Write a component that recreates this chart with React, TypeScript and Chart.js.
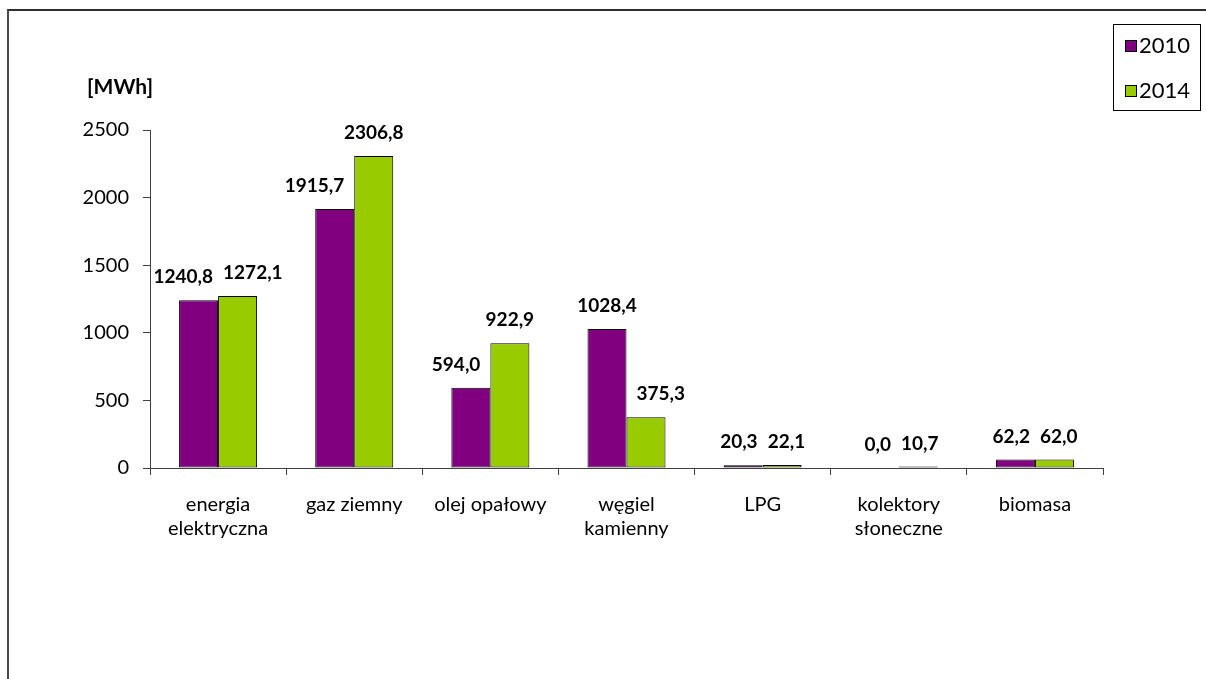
import React, { useEffect, useRef } from "react";
import { Chart, registerables } from "chart.js";

Chart.register(...registerables);

const categories: string[][] = [
  ["energia", "elektryczna"],
  ["gaz ziemny"],
  ["olej opałowy"],
  ["węgiel", "kamienny"],
  ["LPG"],
  ["kolektory", "słoneczne"],
  ["biomasa"],
];
const seriesNames = ["2010", "2014"];
const values2010 = [1240.8, 1915.7, 594.0, 1028.4, 20.3, 0.0, 62.2];
const values2014 = [1272.1, 2306.8, 922.9, 375.3, 22.1, 10.7, 62.0];
const yTickValues = [0, 500, 1000, 1500, 2000, 2500];
const unitLabel = "[MWh]";

const COLORS = ["#800080", "#99CC00"];
const FONT = "Lato, 'Liberation Sans', sans-serif";

const fmt = (v: number) => v.toFixed(1).replace(".", ",");

const labelPlugin = {
  id: "valueLabels",
  afterDatasetsDraw(chart: any) {
    const ctx = chart.ctx;
    ctx.save();
    ctx.font = `bold 19px ${FONT}`;
    ctx.fillStyle = "#000";
    ctx.textAlign = "center";
    ctx.textBaseline = "middle";
    const m0 = chart.getDatasetMeta(0);
    const m1 = chart.getDatasetMeta(1);
    const d0 = chart.data.datasets[0].data as number[];
    const d1 = chart.data.datasets[1].data as number[];
    const half = 9;
    for (let i = 0; i < d0.length; i++) {
      const b0 = m0.data[i];
      const b1 = m1.data[i];
      const t0 = fmt(d0[i]);
      const t1 = fmt(d1[i]);
      const w0 = ctx.measureText(t0).width;
      const w1 = ctx.measureText(t1).width;
      let x0 = b0.x;
      let x1 = b1.x;
      const y0 = b0.y - 23;
      const y1 = b1.y - 23;
      const gap = 10;
      // keep a label clear of the neighbouring (taller) bar
      if (y0 + half > b1.y) {
        const right = b1.x - b1.width / 2 - gap;
        if (x0 + w0 / 2 > right) x0 = right - w0 / 2;
      }
      if (y1 + half > b0.y) {
        const left = b0.x + b0.width / 2 + gap;
        if (x1 - w1 / 2 < left) x1 = left + w1 / 2;
      }
      if (Math.abs(y0 - y1) < 18) {
        const space = x1 - w1 / 2 - (x0 + w0 / 2);
        if (space < gap) {
          const o = gap - space;
          x0 -= o / 2;
          x1 += o / 2;
        }
      }
      ctx.fillText(t0, x0, y0);
      ctx.fillText(t1, x1, y1);
    }
    ctx.restore();
  },
};

const decorPlugin = {
  id: "decor",
  afterDraw(chart: any) {
    const ctx = chart.ctx;
    ctx.save();
    ctx.font = `bold 21px ${FONT}`;
    ctx.fillStyle = "#000";
    ctx.textAlign = "left";
    ctx.textBaseline = "middle";
    ctx.fillText(unitLabel, 87, 87);
    ctx.strokeStyle = "#000";
    ctx.lineWidth = 1;
    ctx.strokeRect(1113.5, 24.5, 87, 86);
    ctx.font = `22px ${FONT}`;
    const ys = [46, 91];
    seriesNames.forEach((n, i) => {
      ctx.fillStyle = COLORS[i];
      ctx.fillRect(1125, ys[i] - 6, 12, 12);
      ctx.strokeStyle = "#000";
      ctx.strokeRect(1125.5, ys[i] - 5.5, 11, 11);
      ctx.fillStyle = "#000";
      ctx.fillText(n, 1139, ys[i]);
    });
    ctx.restore();
  },
};

export default function App() {
  const ref = useRef<HTMLCanvasElement | null>(null);
  useEffect(() => {
    if (!ref.current) return;
    const mk = (i: number, data: number[]) => ({
      label: seriesNames[i],
      data,
      backgroundColor: COLORS[i],
      borderColor: "#000",
      borderWidth: 1,
      borderSkipped: false,
      barPercentage: 1,
      categoryPercentage: 0.573,
    });
    const chart = new Chart(ref.current, {
      type: "bar",
      data: {
        labels: categories,
        datasets: [mk(0, values2010), mk(1, values2014)],
      },
      options: {
        animation: false,
        responsive: false,
        devicePixelRatio: 1,
        layout: { padding: { left: 0, top: 130, right: 103, bottom: 0 } },
        plugins: {
          legend: { display: false },
          tooltip: { enabled: false },
        },
        scales: {
          x: {
            grid: {
              offset: true,
              drawOnChartArea: false,
              drawTicks: true,
              tickLength: 7,
              color: "#404040",
            },
            border: { display: true, color: "#404040", width: 1 },
            ticks: {
              font: { family: FONT, size: 20 },
              color: "#000",
              padding: 18,
              maxRotation: 0,
              autoSkip: false,
            },
            afterFit: (s: any) => {
              s.height = 211;
            },
          },
          y: {
            min: 0,
            max: 2500,
            afterBuildTicks: (s: any) => {
              s.ticks = yTickValues.map((v) => ({ value: v }));
            },
            grid: {
              drawOnChartArea: false,
              drawTicks: true,
              tickLength: 7,
              color: "#404040",
            },
            border: { display: true, color: "#404040", width: 1 },
            ticks: {
              font: { family: FONT, size: 20 },
              color: "#000",
              padding: 14,
              callback: (v: any) => String(v),
            },
            afterFit: (s: any) => {
              s.width = 150;
            },
          },
        },
      },
      plugins: [labelPlugin, decorPlugin],
    });
    return () => chart.destroy();
  }, []);
  return (
    <div style={{ position: "fixed", left: 0, top: 0, width: 1206, height: 679, background: "#fff" }}>
      <div
        style={{
          position: "absolute",
          left: 7,
          top: 9,
          right: 0,
          bottom: 0,
          borderLeft: "2px solid #4a4a4a",
          borderTop: "2px solid #303030",
        }}
      />
      <canvas ref={ref} width={1206} height={679} style={{ position: "absolute", left: 0, top: 0, width: 1206, height: 679 }} />
    </div>
  );
}
